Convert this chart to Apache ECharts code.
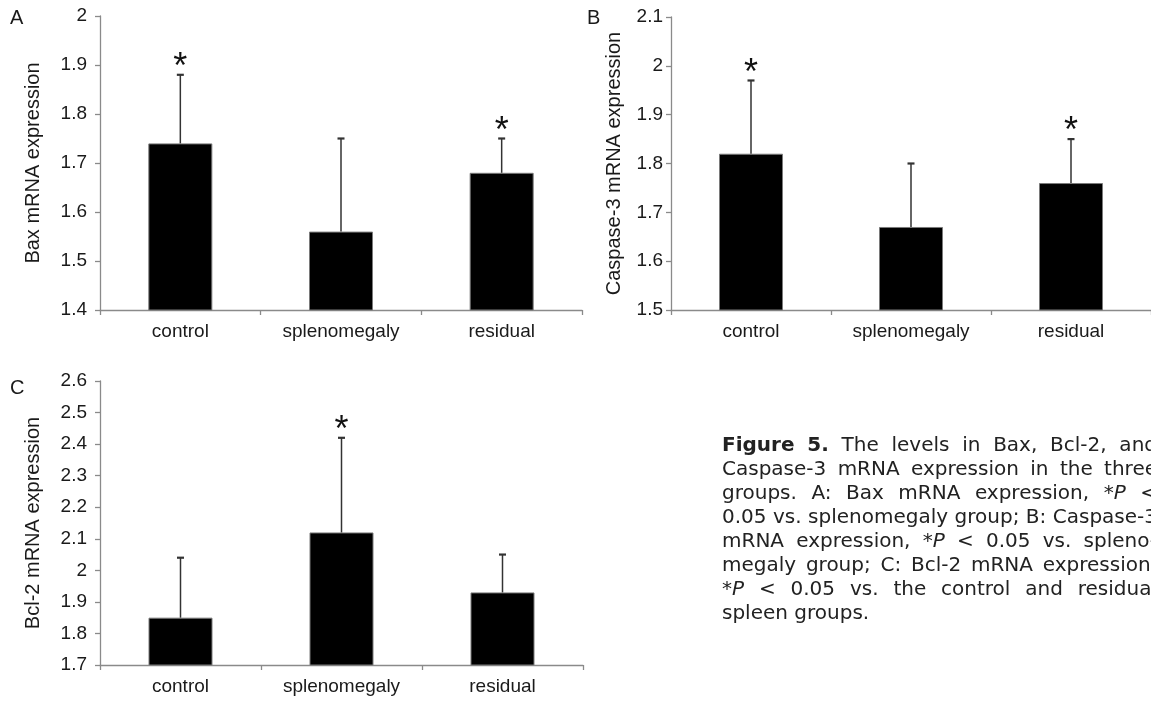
<!DOCTYPE html>
<html><head><meta charset="utf-8">
<script src="https://cdn.jsdelivr.net/npm/echarts@6/dist/echarts.min.js"></script>
<style>html,body{margin:0;padding:0;background:#fff}#c{width:1151px;height:704px}</style>
</head><body><div id="c"></div>
<script>
// ---- data ----
const categories = ['control', 'splenomegaly', 'residual'];

const baxMean = [1.74, 1.56, 1.68];
const baxSD   = [0.14, 0.19, 0.07];
const baxStar = [1, 0, 1];
const baxAxis = [1.4, 2.0, 0.1];

const casMean = [1.82, 1.67, 1.76];
const casSD   = [0.15, 0.13, 0.09];
const casStar = [1, 0, 1];
const casAxis = [1.5, 2.1, 0.1];

const bclMean = [1.85, 2.12, 1.93];
const bclSD   = [0.19, 0.30, 0.12];
const bclStar = [0, 1, 0];
const bclAxis = [1.7, 2.6, 0.1];

const panelLetters = ['A', 'B', 'C'];
const yNames = ['Bax mRNA expression', 'Caspase-3 mRNA expression', 'Bcl-2 mRNA expression'];

const captionLines = [
  'Figure 5. The levels in Bax, Bcl-2, and',
  'Caspase-3 mRNA expression in the three',
  'groups. A: Bax mRNA expression, *P <',
  '0.05 vs. splenomegaly group; B: Caspase-3',
  'mRNA expression, *P < 0.05 vs. spleno-',
  'megaly group; C: Bcl-2 mRNA expression,',
  '*P < 0.05 vs. the control and residual',
  'spleen groups.'
];

// ---- layout / style ----
const FONT = '"Liberation Sans", Arial, sans-serif';
const TXT = '#1a1a1a';
const AX = '#8a8a8a';
const STAR_SIZE = 36;

const panels = [
  { mean: baxMean, sd: baxSD, star: baxStar, axis: baxAxis, name: yNames[0],
    grid: { left: 100, top: 16, width: 482, height: 294 }, lblMargin: 13, nameGap: 57,
    letter: { x: 10, base: 25 } },
  { mean: casMean, sd: casSD, star: casStar, axis: casAxis, name: yNames[1],
    grid: { left: 671, top: 17, width: 481, height: 293 }, lblMargin: 8, nameGap: 47,
    letter: { x: 587, base: 25 } },
  { mean: bclMean, sd: bclSD, star: bclStar, axis: bclAxis, name: yNames[2],
    grid: { left: 100, top: 381, width: 483, height: 284 }, lblMargin: 13, nameGap: 57,
    letter: { x: 10, base: 395 } }
];

const grids = [], xAxes = [], yAxes = [], series = [], graphics = [];

panels.forEach((p, i) => {
  grids.push(Object.assign({ containLabel: false }, p.grid));
  xAxes.push({
    type: 'category', gridIndex: i, data: categories,
    axisLine: { lineStyle: { color: AX, width: 1.3 } },
    axisTick: { show: true, length: 5, alignWithLabel: false, lineStyle: { color: AX, width: 1.3 } },
    axisLabel: { color: TXT, fontSize: 19, fontFamily: FONT, margin: 12, interval: 0 },
    splitLine: { show: false }
  });
  yAxes.push({
    type: 'value', gridIndex: i, min: p.axis[0], max: p.axis[1], interval: p.axis[2],
    name: p.name, nameLocation: 'middle', nameGap: p.nameGap,
    nameTextStyle: { color: TXT, fontSize: 20, fontFamily: FONT },
    axisLine: { show: true, lineStyle: { color: AX, width: 1.3 } },
    axisTick: { show: true, length: 5, lineStyle: { color: AX, width: 1.3 } },
    axisLabel: { color: TXT, fontSize: 19, fontFamily: FONT, margin: p.lblMargin,
      formatter: v => String(+(+v).toFixed(1)) },
    splitLine: { show: false }
  });
  series.push({
    type: 'bar', xAxisIndex: i, yAxisIndex: i, data: p.mean, barWidth: 64,
    itemStyle: { color: '#000', borderColor: '#7a7a7a', borderWidth: 1 },
    z: 2
  });
  series.push({
    type: 'custom', xAxisIndex: i, yAxisIndex: i,
    data: p.mean.map((m, j) => [j, m, +(m + p.sd[j]).toFixed(3)]),
    encode: { x: 0, y: [1, 2] },
    renderItem: (params, api) => {
      const b = api.coord([api.value(0), api.value(1)]);
      const t = api.coord([api.value(0), api.value(2)]);
      return { type: 'group', children: [
        { type: 'line', shape: { x1: b[0], y1: b[1], x2: t[0], y2: t[1] }, style: { stroke: '#333', lineWidth: 1.5 } },
        { type: 'line', shape: { x1: t[0] - 3.5, y1: t[1], x2: t[0] + 3.5, y2: t[1] }, style: { stroke: '#333', lineWidth: 2.2 } }
      ] };
    },
    z: 3
  });
  const starData = [];
  p.star.forEach((s, j) => { if (s) starData.push([j, +(p.mean[j] + p.sd[j]).toFixed(3)]); });
  series.push({
    type: 'custom', xAxisIndex: i, yAxisIndex: i, data: starData,
    encode: { x: 0, y: 1 }, silent: true,
    renderItem: (params, api) => {
      const c = api.coord([api.value(0), api.value(1)]);
      return { type: 'text', x: c[0], y: c[1] - 15 + 0.234 * STAR_SIZE,
        style: { text: '*', font: STAR_SIZE + 'px ' + FONT, fill: '#111', align: 'center', verticalAlign: 'middle' } };
    },
    z: 4
  });
  graphics.push({
    type: 'text', x: p.letter.x, y: p.letter.base - 7,
    style: { text: panelLetters[i], font: '20px ' + FONT, fill: TXT, verticalAlign: 'middle', align: 'left' }
  });
});

// ---- caption (justified, measured at runtime) ----
const CAP_FONT = '"DejaVu Sans"';
const CAP_SIZE = 20;
const CAP_X = 722, CAP_W = 435, CAP_BASE0 = 453, CAP_LH = 23.9;
const mctx = document.createElement('canvas').getContext('2d');
function fontStr(b, it) { return (it ? 'italic ' : '') + (b ? 'bold ' : '') + CAP_SIZE + 'px ' + CAP_FONT; }
function measure(t, b, it) { mctx.font = fontStr(b, it); return mctx.measureText(t).width; }

captionLines.forEach((line, li) => {
  const words = line.split(' ').map((w, wi) => {
    let parts;
    if (w.startsWith('*P')) parts = [{ t: '*' }, { t: 'P', i: true }, ...(w.length > 2 ? [{ t: w.slice(2) }] : [])];
    else parts = [{ t: w, b: li === 0 && wi < 2 }];
    parts.forEach(pt => pt.w = measure(pt.t, pt.b, pt.i));
    return { parts, w: parts.reduce((a, pt) => a + pt.w, 0) };
  });
  const total = words.reduce((a, w) => a + w.w, 0);
  const spaceW = measure(' ', false, false);
  const last = li === captionLines.length - 1;
  let gap = last ? spaceW : (CAP_W - total) / (words.length - 1);
  if (gap < spaceW * 0.8) gap = spaceW * 0.8;
  let x = CAP_X;
  const y = CAP_BASE0 + li * CAP_LH - 0.3465 * CAP_SIZE;
  words.forEach(w => {
    let px = x;
    w.parts.forEach(pt => {
      graphics.push({ type: 'text', x: px, y: y,
        style: { text: pt.t, font: fontStr(pt.b, pt.i), fill: '#222', verticalAlign: 'middle', align: 'left' } });
      px += pt.w;
    });
    x += w.w + gap;
  });
});

const chart = echarts.init(document.getElementById('c'), null, { renderer: 'canvas' });
chart.setOption({
  animation: false,
  backgroundColor: '#fff',
  textStyle: { fontFamily: FONT },
  grid: grids, xAxis: xAxes, yAxis: yAxes, series: series, graphic: graphics
});
</script></body></html>
